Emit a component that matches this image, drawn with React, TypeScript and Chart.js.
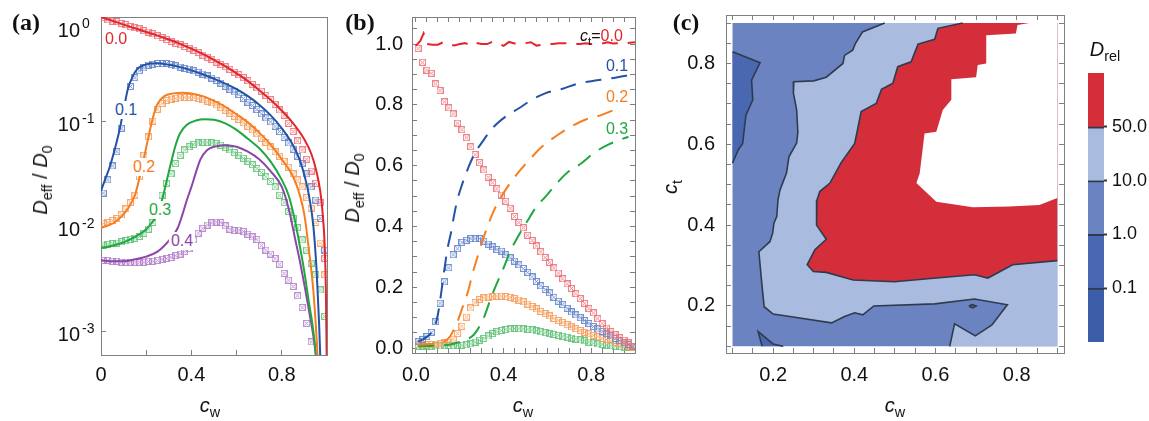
import React, { useEffect, useRef } from "react";
import { Chart, registerables } from "chart.js";

Chart.register(...registerables);

const FONT = "'Liberation Sans', Arial, Helvetica, sans-serif";
const SERIF = "'Liberation Serif', 'Times New Roman', serif";
const FRAME = "#808080";
const TXT = "#111111";

// ---------- simulation markers (shared by panels a and b) ----------
const CW_SIM = [0.01, 0.03, 0.05, 0.07, 0.09, 0.11, 0.13, 0.15, 0.17, 0.19, 0.21, 0.23, 0.25, 0.27, 0.29, 0.31, 0.33, 0.35, 0.37, 0.39, 0.41, 0.43, 0.45, 0.47, 0.49, 0.51, 0.53, 0.55, 0.57, 0.59, 0.61, 0.63, 0.65, 0.67, 0.69, 0.71, 0.73, 0.75, 0.77, 0.79, 0.81, 0.83, 0.85, 0.87, 0.89, 0.91, 0.93, 0.95, 0.97, 0.99];
const SIM_CT00 = [0.985, 0.94, 0.914, 0.904, 0.869, 0.847, 0.81, 0.79, 0.77, 0.74, 0.718, 0.692, 0.662, 0.637, 0.61, 0.586, 0.562, 0.544, 0.524, 0.503, 0.483, 0.46, 0.433, 0.413, 0.396, 0.371, 0.354, 0.336, 0.317, 0.298, 0.282, 0.264, 0.247, 0.228, 0.211, 0.196, 0.179, 0.163, 0.147, 0.13, 0.116, 0.097, 0.081, 0.066, 0.054, 0.044, 0.034, 0.026, 0.017, 0.005];
const SIM_CT01 = [0.021, 0.028, 0.038, 0.052, 0.087, 0.148, 0.218, 0.264, 0.307, 0.327, 0.348, 0.355, 0.36, 0.36, 0.36, 0.352, 0.342, 0.333, 0.324, 0.319, 0.307, 0.297, 0.286, 0.274, 0.262, 0.249, 0.234, 0.219, 0.205, 0.193, 0.182, 0.167, 0.154, 0.143, 0.131, 0.119, 0.109, 0.1, 0.091, 0.081, 0.071, 0.063, 0.055, 0.047, 0.04, 0.032, 0.024, 0.018, 0.012, 0.006];
const SIM_CT02 = [0.0108, 0.011, 0.0115, 0.012, 0.013, 0.0148, 0.017, 0.02, 0.03, 0.048, 0.072, 0.102, 0.132, 0.15, 0.16, 0.165, 0.168, 0.17, 0.171, 0.171, 0.17, 0.167, 0.163, 0.158, 0.152, 0.145, 0.137, 0.129, 0.121, 0.113, 0.106, 0.098, 0.091, 0.084, 0.077, 0.07, 0.064, 0.058, 0.052, 0.047, 0.042, 0.037, 0.032, 0.028, 0.024, 0.019, 0.015, 0.011, 0.007, 0.0035];
const SIM_CT03 = [0.0067, 0.0068, 0.0069, 0.007, 0.0072, 0.0074, 0.0076, 0.0078, 0.0081, 0.0087, 0.0095, 0.011, 0.014, 0.02, 0.026, 0.032, 0.04, 0.048, 0.054, 0.058, 0.061, 0.063, 0.064, 0.064, 0.063, 0.062, 0.06, 0.057, 0.054, 0.051, 0.048, 0.045, 0.042, 0.039, 0.036, 0.033, 0.03, 0.027, 0.024, 0.02, 0.017, 0.014, 0.012, 0.0098, 0.0075, 0.006, 0.0045, 0.0035, 0.0025, 0.0014];
const SIM_CT04 = [0.0048, 0.0048, 0.0047, 0.0047, 0.0046, 0.0046, 0.0046, 0.0046, 0.0046, 0.0046, 0.0047, 0.0047, 0.0048, 0.0049, 0.005, 0.0051, 0.0053, 0.0055, 0.0058, 0.0062, 0.0075, 0.0087, 0.0097, 0.0104, 0.0109, 0.0111, 0.011, 0.0102, 0.0095, 0.0092, 0.0093, 0.009, 0.0085, 0.008, 0.0076, 0.0066, 0.006, 0.0055, 0.005, 0.0044, 0.0036, 0.0031, 0.0027, 0.0022, 0.0017, 0.0012, 0.0008, null, null, null];

// ---------- theory curves, panel a ----------
const TH00_X = [0, 0.05, 0.1, 0.15, 0.2, 0.25, 0.3, 0.35, 0.4, 0.45, 0.5, 0.55, 0.6, 0.65, 0.7, 0.75, 0.8, 0.85, 0.9, 0.93, 0.95, 0.97, 0.98, 0.99, 0.995, 1.0];
const TH00_Y = [1.0, 0.92, 0.845, 0.78, 0.72, 0.665, 0.61, 0.555, 0.5, 0.445, 0.39, 0.34, 0.29, 0.245, 0.2, 0.163, 0.128, 0.097, 0.068, 0.05, 0.036, 0.022, 0.014, 0.0065, 0.0025, 0.0003];
const TH01_X = [0, 0.02, 0.04, 0.06, 0.08, 0.1, 0.12, 0.14, 0.16, 0.19, 0.22, 0.25, 0.3, 0.35, 0.4, 0.45, 0.5, 0.55, 0.6, 0.65, 0.7, 0.75, 0.8, 0.85, 0.88, 0.9, 0.92, 0.94, 0.955, 0.965, 0.975];
const TH01_Y = [0.022, 0.029, 0.038, 0.054, 0.08, 0.13, 0.21, 0.27, 0.318, 0.348, 0.36, 0.362, 0.35, 0.333, 0.31, 0.285, 0.258, 0.232, 0.205, 0.176, 0.146, 0.116, 0.087, 0.06, 0.043, 0.031, 0.02, 0.01, 0.0035, 0.0012, 0.0003];
const TH02_X = [0, 0.03, 0.06, 0.09, 0.12, 0.15, 0.17, 0.19, 0.21, 0.23, 0.25, 0.28, 0.32, 0.36, 0.4, 0.45, 0.5, 0.55, 0.6, 0.65, 0.7, 0.75, 0.8, 0.85, 0.88, 0.9, 0.92, 0.94, 0.955, 0.965];
const TH02_Y = [0.0098, 0.0103, 0.011, 0.0125, 0.015, 0.02, 0.029, 0.045, 0.072, 0.11, 0.148, 0.176, 0.187, 0.19, 0.187, 0.176, 0.159, 0.139, 0.118, 0.099, 0.079, 0.061, 0.044, 0.03, 0.02, 0.013, 0.006, 0.0024, 0.0008, 0.0003];
const TH03_X = [0, 0.05, 0.1, 0.15, 0.2, 0.23, 0.25, 0.27, 0.29, 0.31, 0.33, 0.35, 0.38, 0.42, 0.46, 0.5, 0.55, 0.6, 0.65, 0.7, 0.75, 0.8, 0.83, 0.86, 0.88, 0.9, 0.92, 0.935, 0.948, 0.96];
const TH03_Y = [0.0063, 0.0066, 0.0071, 0.008, 0.0095, 0.0113, 0.013, 0.018, 0.027, 0.041, 0.06, 0.078, 0.094, 0.103, 0.106, 0.105, 0.097, 0.084, 0.069, 0.056, 0.042, 0.028, 0.02, 0.011, 0.0065, 0.0037, 0.0019, 0.0012, 0.0007, 0.0003];
const TH04_X = [0, 0.05, 0.1, 0.15, 0.2, 0.25, 0.28, 0.31, 0.34, 0.36, 0.38, 0.4, 0.42, 0.44, 0.47, 0.5, 0.55, 0.6, 0.65, 0.7, 0.75, 0.8, 0.83, 0.86, 0.88, 0.9, 0.92, 0.94, 0.955, 0.965];
const TH04_Y = [0.0048, 0.0047, 0.0047, 0.0049, 0.0052, 0.0058, 0.0066, 0.0078, 0.0098, 0.013, 0.018, 0.024, 0.033, 0.044, 0.054, 0.058, 0.06, 0.058, 0.052, 0.044, 0.034, 0.024, 0.015, 0.0075, 0.0047, 0.0028, 0.0016, 0.0009, 0.0005, 0.0003];

// ---------- dashed curves, panel b ----------
const BD00_X = [0, 0.02, 0.035, 0.05, 0.075, 0.1, 0.125, 0.15, 0.175, 0.2, 0.225, 0.25, 0.275, 0.3, 0.325, 0.35, 0.375, 0.4, 0.425, 0.45, 0.475, 0.5, 0.525, 0.55, 0.575, 0.6, 0.625, 0.65, 0.675, 0.7, 0.725, 0.75, 0.775, 0.8, 0.825, 0.85, 0.875, 0.9, 0.925, 0.95, 0.975, 1.0];
const BD00_Y = [0.995, 1.01, 1.035, 1.0, 0.998, 0.998, 1.006, 1.0, 0.995, 1.0, 1.003, 0.995, 1.004, 1.0, 1.0, 1.008, 1.003, 0.994, 1.007, 1.002, 1.0, 1.003, 1.006, 0.995, 0.998, 1.0, 1.0, 1.003, 1.003, 1.002, 1.0, 1.0, 1.003, 1.0, 1.0, 1.002, 1.006, 1.002, 1.003, 1.0, 1.004, 1.006];
const BD01_X = [0.01, 0.03, 0.05, 0.07, 0.085, 0.1, 0.115, 0.13, 0.145, 0.16, 0.175, 0.19, 0.21, 0.24, 0.27, 0.3, 0.35, 0.41, 0.47, 0.53, 0.59, 0.67, 0.73, 0.8, 0.88, 0.96, 0.98];
const BD01_Y = [0.022, 0.028, 0.037, 0.05, 0.068, 0.11, 0.18, 0.26, 0.33, 0.38, 0.44, 0.49, 0.537, 0.595, 0.643, 0.675, 0.724, 0.762, 0.789, 0.817, 0.838, 0.853, 0.868, 0.878, 0.886, 0.896, 0.898];
const BD02_X = [0.01, 0.05, 0.1, 0.13, 0.157, 0.19, 0.214, 0.24, 0.259, 0.282, 0.305, 0.327, 0.354, 0.395, 0.43, 0.478, 0.531, 0.576, 0.637, 0.697, 0.772, 0.848, 0.908, 0.94];
const BD02_Y = [0.012, 0.013, 0.016, 0.022, 0.04, 0.088, 0.137, 0.192, 0.247, 0.302, 0.356, 0.4, 0.45, 0.504, 0.543, 0.587, 0.63, 0.663, 0.696, 0.724, 0.751, 0.767, 0.784, 0.79];
const BD03_X = [0.01, 0.05, 0.1, 0.15, 0.2, 0.237, 0.265, 0.29, 0.312, 0.33, 0.345, 0.373, 0.403, 0.43, 0.466, 0.508, 0.546, 0.599, 0.644, 0.689, 0.757, 0.81, 0.878, 0.953, 0.97];
const BD03_Y = [0.006, 0.007, 0.008, 0.011, 0.02, 0.03, 0.045, 0.071, 0.104, 0.14, 0.17, 0.219, 0.269, 0.318, 0.367, 0.417, 0.461, 0.504, 0.543, 0.576, 0.609, 0.641, 0.669, 0.691, 0.695];

// ---------- contour map, panel c (cw, ct) ----------
const MAP_CORNERS = [[0.1, 0.1], [0.9, 0.1], [0.9, 0.9], [0.1, 0.9]];
const MID_LIGHT_BOUNDARY = [[0.475, 0.9], [0.42, 0.878], [0.403, 0.85], [0.396, 0.833], [0.376, 0.82], [0.372, 0.8], [0.331, 0.766], [0.3, 0.757], [0.251, 0.755], [0.25, 0.727], [0.258, 0.685], [0.261, 0.63], [0.258, 0.603], [0.239, 0.569], [0.233, 0.529], [0.217, 0.487], [0.212, 0.462], [0.209, 0.421], [0.202, 0.405], [0.199, 0.38], [0.192, 0.359], [0.165, 0.334], [0.172, 0.257], [0.178, 0.198], [0.2, 0.18], [0.241, 0.174], [0.344, 0.158], [0.376, 0.174], [0.401, 0.183], [0.421, 0.178], [0.448, 0.2], [0.598, 0.205], [0.696, 0.217], [0.777, 0.203], [0.739, 0.153], [0.698, 0.126], [0.647, 0.156], [0.635, 0.1]];
const RED_BOUNDARY = [[0.667, 0.9], [0.606, 0.887], [0.598, 0.86], [0.557, 0.848], [0.54, 0.804], [0.507, 0.792], [0.495, 0.751], [0.467, 0.736], [0.454, 0.701], [0.417, 0.681], [0.401, 0.602], [0.368, 0.555], [0.34, 0.504], [0.315, 0.483], [0.308, 0.462], [0.307, 0.4], [0.331, 0.365], [0.303, 0.339], [0.284, 0.302], [0.299, 0.285], [0.331, 0.283], [0.397, 0.264], [0.499, 0.26], [0.602, 0.269], [0.696, 0.277], [0.729, 0.269], [0.79, 0.302], [0.9, 0.312]];
const WHITE_BOUNDARY = [[0.831, 0.9], [0.802, 0.895], [0.798, 0.874], [0.725, 0.87], [0.725, 0.8], [0.704, 0.796], [0.7, 0.766], [0.639, 0.761], [0.639, 0.71], [0.618, 0.685], [0.602, 0.631], [0.573, 0.627], [0.561, 0.528], [0.553, 0.504], [0.602, 0.458], [0.692, 0.444], [0.782, 0.446], [0.856, 0.45], [0.9, 0.467]];
const DARK_LEFT_BOUNDARY = [[0.1, 0.829], [0.168, 0.802], [0.147, 0.759], [0.15, 0.71], [0.133, 0.672], [0.125, 0.602], [0.114, 0.586], [0.1, 0.553]];
const DARK_BOTTOM_BOUNDARY = [[0.173, 0.1], [0.163, 0.137], [0.2, 0.106], [0.225, 0.1]];
const DARK_SPOT = [[0.682, 0.199], [0.69, 0.203], [0.7, 0.2], [0.692, 0.195], [0.682, 0.199]];

// ---------- ticks ----------
const A_XTICKS = [0, 0.2, 0.4, 0.6, 0.8, 1.0];
const A_XLABELS = ["0", "", "0.4", "", "0.8", ""];
const A_YTICKS = [0.001, 0.01, 0.1, 1];
const A_YEXP = ["-3", "-2", "-1", "0"];
const B_XTICKS = [0, 0.05, 0.1, 0.15, 0.2, 0.25, 0.3, 0.35, 0.4, 0.45, 0.5, 0.55, 0.6, 0.65, 0.7, 0.75, 0.8, 0.85, 0.9, 0.95, 1.0];
const B_XLABELS: Record<string, string> = { "0": "0.0", "0.4": "0.4", "0.8": "0.8" };
const B_YTICKS = [0, 0.05, 0.1, 0.15, 0.2, 0.25, 0.3, 0.35, 0.4, 0.45, 0.5, 0.55, 0.6, 0.65, 0.7, 0.75, 0.8, 0.85, 0.9, 0.95, 1.0, 1.05];
const B_YLABELS: Record<string, string> = { "0": "0.0", "0.2": "0.2", "0.4": "0.4", "0.6": "0.6", "0.8": "0.8", "1": "1.0" };
const C_TICKS = [0.1, 0.15, 0.2, 0.25, 0.3, 0.35, 0.4, 0.45, 0.5, 0.55, 0.6, 0.65, 0.7, 0.75, 0.8, 0.85, 0.9];
const C_LABELS: Record<string, string> = { "0.2": "0.2", "0.4": "0.4", "0.6": "0.6", "0.8": "0.8" };
const BAR_LEVELS = ["<0.1", "0.1-1", "1-10", "10-50", ">50"];
const BAR_TICKS = [1, 2, 3, 4];
const BAR_LABELS = ["0.1", "1.0", "10.0", "50.0"];

// ---------- colours ----------
const COL = { red: "#E3262C", blue: "#2453A6", orange: "#F47E20", green: "#1FA83F", purple: "#8C46A6" };
const MK = {
  red: "rgba(236,118,124,0.9)",
  blue: "rgba(104,136,204,0.9)",
  orange: "rgba(247,160,96,0.9)",
  green: "rgba(104,196,124,0.9)",
  purple: "rgba(182,132,204,0.9)",
};
const MAP = { red: "#D42E3A", light: "#A9BCE0", mid: "#6B84C1", dark: "#4A68B1", darkest: "#3C5DA8" };
const CONTOUR = "#2E3B4E";

// ---------- helpers ----------
const key = (v: number) => String(+(+v).toFixed(2));
const pts = (xs: number[], ys: (number | null)[]) =>
  xs.map((x, i) => ({ x, y: ys[i] })).filter((p) => p.y !== null && p.y !== undefined);
const pairPts = (arr: number[][]) => arr.map(([x, y]) => ({ x, y }));

function markerImg(color: string) {
  const c = document.createElement("canvas");
  c.width = 7;
  c.height = 7;
  const g = c.getContext("2d")!;
  g.strokeStyle = color;
  g.lineWidth = 1;
  g.strokeRect(0.5, 0.5, 6, 6);
  g.beginPath();
  g.moveTo(1.5, 1.5);
  g.lineTo(5.5, 5.5);
  g.moveTo(5.5, 1.5);
  g.lineTo(1.5, 5.5);
  g.stroke();
  return c;
}

function markerSet(xs: number[], ys: (number | null)[], color: string) {
  return { data: pts(xs, ys), showLine: false, pointStyle: markerImg(color), pointRadius: 3, pointHoverRadius: 3, xAxisID: "x", yAxisID: "y" };
}
function curveSet(xs: number[], ys: number[], color: string, dash: number[] = [], smooth = true) {
  return {
    data: pts(xs, ys), showLine: true, borderColor: color, borderWidth: 2, borderDash: dash, pointRadius: 0, fill: false,
    cubicInterpolationMode: smooth ? "monotone" : "default", tension: 0, xAxisID: "x", yAxisID: "y",
  };
}
function polySet(arr: number[][], color: string) {
  return { data: pairPts(arr), showLine: true, fill: "shape", backgroundColor: color, borderWidth: 0, borderColor: "rgba(0,0,0,0)", pointRadius: 0, tension: 0, xAxisID: "x", yAxisID: "y" };
}
function contourSet(arr: number[][]) {
  return { data: pairPts(arr), showLine: true, fill: false, borderColor: CONTOUR, borderWidth: 1.6, pointRadius: 0, tension: 0, xAxisID: "x", yAxisID: "y" };
}

type AxisArgs = {
  position: "left" | "right" | "top" | "bottom";
  type?: string;
  min: number;
  max: number;
  ticks: number[];
  label?: (v: number, i: number) => string | string[];
  size: number;
  padding?: number;
  drawTicks?: boolean;
};
function axis(a: AxisArgs) {
  const horizontal = a.position === "top" || a.position === "bottom";
  return {
    type: a.type || "linear",
    position: a.position,
    min: a.min,
    max: a.max,
    afterBuildTicks: (s: any) => {
      s.ticks = a.ticks.map((v) => ({ value: v }));
    },
    afterFit: (s: any) => {
      if (horizontal) s.height = a.size;
      else s.width = a.size;
    },
    ticks: {
      display: !!a.label,
      autoSkip: false,
      maxRotation: 0,
      minRotation: 0,
      padding: a.padding ?? 0,
      color: TXT,
      font: { family: FONT, size: 20 },
      callback: (v: number, i: number) => (a.label ? a.label(v, i) : ""),
    },
    grid: { display: true, drawOnChartArea: false, drawTicks: a.drawTicks !== false, tickLength: -5, color: FRAME, tickColor: FRAME, tickWidth: 1 },
    border: { display: true, color: FRAME, width: 1 },
  };
}

const baseOptions = (padding: any, scales: any) => ({
  responsive: false,
  maintainAspectRatio: false,
  animation: false,
  events: [],
  layout: { padding },
  plugins: { legend: { display: false }, tooltip: { enabled: false }, title: { display: false } },
  scales,
});

// power-of-ten labels for the logarithmic axis of panel (a), placed with the scale
const powerLabels = {
  id: "powerLabels",
  afterDraw(chart: any) {
    const s = chart.scales.y;
    const ctx = chart.ctx;
    const left = chart.chartArea.left;
    const top = chart.chartArea.top;
    A_YTICKS.forEach((v, i) => {
      let y = s.getPixelForValue(v) + 4;
      if (y < top + 14) y = top + 14;
      ctx.save();
      ctx.fillStyle = TXT;
      ctx.textBaseline = "middle";
      ctx.font = `20px ${FONT}`;
      ctx.textAlign = "right";
      ctx.fillText("10", left - 21, y);
      ctx.font = `14px ${FONT}`;
      ctx.textAlign = "left";
      ctx.fillText(A_YEXP[i], left - 19, y - 7);
      ctx.restore();
    });
  },
};

function makeA(): any {
  return {
    type: "scatter",
    data: {
      datasets: [
        curveSet(TH00_X, TH00_Y, COL.red),
        curveSet(TH01_X, TH01_Y, COL.blue),
        curveSet(TH02_X, TH02_Y, COL.orange),
        curveSet(TH03_X, TH03_Y, COL.green),
        curveSet(TH04_X, TH04_Y, COL.purple),
        markerSet(CW_SIM, SIM_CT00, MK.red),
        markerSet(CW_SIM, SIM_CT01, MK.blue),
        markerSet(CW_SIM, SIM_CT02, MK.orange),
        markerSet(CW_SIM, SIM_CT03, MK.green),
        markerSet(CW_SIM, SIM_CT04, MK.purple),
      ],
    },
    options: baseOptions({ left: 0, top: 37, right: 13, bottom: 0 }, {
      x: axis({ position: "bottom", min: 0, max: 1, ticks: A_XTICKS, label: (_v, i) => A_XLABELS[i] ?? "", size: 45, padding: 13 }),
      x2: axis({ position: "top", min: 0, max: 1, ticks: A_XTICKS, size: 0, drawTicks: false }),
      y: axis({ position: "left", type: "logarithmic", min: 6e-4, max: 1, ticks: A_YTICKS, size: 101 }),
      y2: axis({ position: "right", type: "logarithmic", min: 6e-4, max: 1, ticks: A_YTICKS, size: 0, drawTicks: false }),
    }),
    plugins: [powerLabels],
  };
}

function makeB(): any {
  return {
    type: "scatter",
    data: {
      datasets: [
        curveSet(BD00_X, BD00_Y, COL.red, [16, 10], false),
        curveSet(BD01_X, BD01_Y, COL.blue, [16, 10]),
        curveSet(BD02_X, BD02_Y, COL.orange, [16, 10]),
        curveSet(BD03_X, BD03_Y, COL.green, [16, 10]),
        markerSet(CW_SIM, SIM_CT00, MK.red),
        markerSet(CW_SIM, SIM_CT01, MK.blue),
        markerSet(CW_SIM, SIM_CT02, MK.orange),
        markerSet(CW_SIM, SIM_CT03, MK.green),
      ],
    },
    options: baseOptions({ left: 0, top: 37, right: 13, bottom: 0 }, {
      x: axis({ position: "bottom", min: -0.018, max: 1.0, ticks: B_XTICKS, label: (v) => B_XLABELS[key(v)] ?? "", size: 47, padding: 15 }),
      x2: axis({ position: "top", min: -0.018, max: 1.0, ticks: B_XTICKS, size: 0 }),
      y: axis({ position: "left", min: -0.016, max: 1.089, ticks: B_YTICKS, label: (v) => B_YLABELS[key(v)] ?? "", size: 72, padding: 14 }),
      y2: axis({ position: "right", min: -0.016, max: 1.089, ticks: B_YTICKS, size: 0 }),
    }),
  };
}

// Chart.js paints the first dataset last (on top), so the list runs top -> bottom
function makeC(): any {
  return {
    type: "scatter",
    data: {
      datasets: [
        contourSet(DARK_SPOT),
        contourSet(DARK_BOTTOM_BOUNDARY),
        contourSet(DARK_LEFT_BOUNDARY),
        contourSet(RED_BOUNDARY),
        contourSet(MID_LIGHT_BOUNDARY),
        polySet(DARK_SPOT, MAP.dark),
        polySet(DARK_BOTTOM_BOUNDARY, MAP.dark),
        polySet(DARK_LEFT_BOUNDARY, MAP.dark),
        polySet([...WHITE_BOUNDARY, [0.9, 0.9]], "#FFFFFF"),
        polySet([...RED_BOUNDARY, [0.9, 0.9]], MAP.red),
        polySet([...MID_LIGHT_BOUNDARY, [0.9, 0.1], [0.9, 0.9]], MAP.light),
        polySet(MAP_CORNERS, MAP.mid),
      ],
    },
    options: baseOptions({ left: 0, top: 35, right: 16, bottom: 0 }, {
      x: axis({ position: "bottom", min: 0.084, max: 0.9165, ticks: C_TICKS, label: (v) => C_LABELS[key(v)] ?? "", size: 47, padding: 15 }),
      x2: axis({ position: "top", min: 0.084, max: 0.9165, ticks: C_TICKS, size: 0 }),
      y: axis({ position: "left", min: 0.0835, max: 0.92, ticks: C_TICKS, label: (v) => C_LABELS[key(v)] ?? "", size: 76, padding: 16 }),
      y2: axis({ position: "right", min: 0.0835, max: 0.92, ticks: C_TICKS, size: 0 }),
    }),
  };
}

function makeBar(): any {
  const colors = [MAP.darkest, MAP.dark, MAP.mid, MAP.light, MAP.red];
  return {
    type: "bar",
    data: {
      labels: [""],
      datasets: BAR_LEVELS.map((lvl, i) => ({
        label: lvl,
        data: [1],
        backgroundColor: colors[i],
        borderColor: CONTOUR,
        borderWidth: i < 4 ? { top: 2, left: 0, right: 0, bottom: 0 } : 0,
        borderSkipped: false,
        barPercentage: 1,
        categoryPercentage: 1,
        stack: "s",
      })),
    },
    options: {
      responsive: false,
      maintainAspectRatio: false,
      animation: false,
      events: [],
      layout: { padding: { left: 8, top: 93, right: 0, bottom: 58 } },
      plugins: { legend: { display: false }, tooltip: { enabled: false } },
      scales: {
        x: { display: false, stacked: true },
        y: {
          stacked: true,
          position: "right",
          min: 0,
          max: 5,
          afterBuildTicks: (s: any) => {
            s.ticks = BAR_TICKS.map((v) => ({ value: v }));
          },
          afterFit: (s: any) => {
            s.width = 45;
          },
          ticks: { autoSkip: false, padding: 5, color: TXT, font: { family: FONT, size: 18 }, callback: (_v: number, i: number) => BAR_LABELS[i] },
          grid: { drawOnChartArea: false, drawTicks: true, tickLength: 3, tickWidth: 2, tickColor: CONTOUR, color: CONTOUR },
          border: { display: false },
        },
      },
    },
  };
}

function ChartBox({ left, top, width, height, make }: { left: number; top: number; width: number; height: number; make: () => any }) {
  const ref = useRef<HTMLCanvasElement | null>(null);
  useEffect(() => {
    if (!ref.current) return;
    const chart = new Chart(ref.current, make());
    return () => chart.destroy();
  }, [make]);
  return <canvas ref={ref} width={width} height={height} style={{ position: "absolute", left, top, width, height }} />;
}

const SUB: React.CSSProperties = { fontSize: "0.72em", position: "relative", top: "0.32em" };

function Txt({ x, y, children, color = TXT, size = 20, rot = false, bg = false, family = FONT, weight = 400, anchor = "center" }: any) {
  const tx = anchor === "left" ? "0" : "-50%";
  return (
    <div
      style={{
        position: "absolute",
        left: x,
        top: y,
        transform: `translate(${tx},-50%)${rot ? " rotate(-90deg)" : ""}`,
        fontFamily: family,
        fontSize: size,
        fontWeight: weight,
        color,
        whiteSpace: "nowrap",
        lineHeight: 1,
        background: bg ? "#fff" : "transparent",
        padding: bg ? "1px 2px" : 0,
      }}
    >
      {children}
    </div>
  );
}

export default function App() {
  return (
    <div style={{ position: "absolute", left: 0, top: 0, width: 1149, height: 421, background: "#fff", overflow: "hidden" }}>
      <ChartBox left={0} top={-20} width={340} height={420} make={makeA} />
      <ChartBox left={340} top={-20} width={310} height={420} make={makeB} />
      <ChartBox left={650} top={-20} width={430} height={420} make={makeC} />
      <ChartBox left={1080} top={-20} width={69} height={420} make={makeBar} />

      <Txt x={26} y={22} size={24} weight={700} family={SERIF}>(a)</Txt>
      <Txt x={360} y={22} size={24} weight={700} family={SERIF}>(b)</Txt>
      <Txt x={686} y={22} size={24} weight={700} family={SERIF}>(c)</Txt>

      <Txt x={40} y={180} rot>
        <i>D</i><span style={SUB}>eff</span> / <i>D</i><span style={SUB}>0</span>
      </Txt>
      <Txt x={352} y={188} rot>
        <i>D</i><span style={SUB}>eff</span> / <i>D</i><span style={SUB}>0</span>
      </Txt>
      <Txt x={670} y={187} rot>
        <i>c</i><span style={SUB}>t</span>
      </Txt>
      <Txt x={210} y={405}><i>c</i><span style={SUB}>w</span></Txt>
      <Txt x={523} y={405}><i>c</i><span style={SUB}>w</span></Txt>
      <Txt x={895} y={405}><i>c</i><span style={SUB}>w</span></Txt>
      <Txt x={1105} y={49}><i>D</i><span style={SUB}>rel</span></Txt>

      <Txt x={116} y={39} size={16} color={COL.red}>0.0</Txt>
      <Txt x={126} y={110} size={16} color={COL.blue} bg>0.1</Txt>
      <Txt x={144} y={167} size={16} color={COL.orange} bg>0.2</Txt>
      <Txt x={160} y={210} size={16} color={COL.green} bg>0.3</Txt>
      <Txt x={182} y={241} size={16} color={COL.purple} bg>0.4</Txt>

      <Txt x={580} y={36} size={16} anchor="left">
        <i>c</i><span style={SUB}>t</span>=<span style={{ color: COL.red }}>0.0</span>
      </Txt>
      <Txt x={617} y={66} size={16} color={COL.blue}>0.1</Txt>
      <Txt x={617} y={97} size={16} color={COL.orange}>0.2</Txt>
      <Txt x={617} y={129} size={16} color={COL.green}>0.3</Txt>
    </div>
  );
}
